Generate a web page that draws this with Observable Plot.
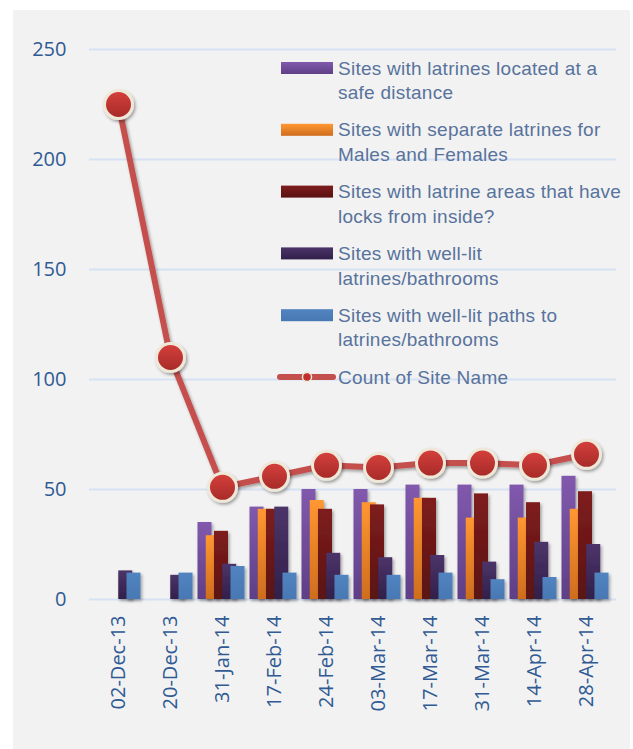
<!DOCTYPE html>
<html><head><meta charset="utf-8">
<script src="https://cdn.jsdelivr.net/npm/d3@7"></script>
<script src="https://cdn.jsdelivr.net/npm/@observablehq/plot@0.6"></script>
<style>
html,body{margin:0;padding:0;background:#fff;}
#wrap{position:relative;width:633px;height:749px;overflow:hidden;}
#panel{position:absolute;left:13px;top:10px;width:617px;height:739px;background:#f2f2f2;}
#chart{position:absolute;left:0;top:0;}
</style></head><body>
<div id="wrap"><div id="panel"></div><div id="chart"></div></div>
<script>
const dates = ["02-Dec-13","20-Dec-13","31-Jan-14","17-Feb-14","24-Feb-14","03-Mar-14","17-Mar-14","31-Mar-14","14-Apr-14","28-Apr-14"];
const seriesNames = [
  "Sites with latrines located at a safe distance",
  "Sites with separate latrines for Males and Females",
  "Sites with latrine areas that have locks from inside?",
  "Sites with well-lit latrines/bathrooms",
  "Sites with well-lit paths to latrines/bathrooms"
];
const lineName = "Count of Site Name";
const legendLines = [
  ["Sites with latrines located at a","safe distance"],
  ["Sites with separate latrines for","Males and Females"],
  ["Sites with latrine areas that have","locks from inside?"],
  ["Sites with well-lit","latrines/bathrooms"],
  ["Sites with well-lit paths to","latrines/bathrooms"],
  ["Count of Site Name"]
];
const safeDistance     = [null,null,35,42,50,50,52,52,52,56];
const separateLatrines = [null,null,29,41,45,44,46,37,37,41];
const locksInside      = [null,null,31,41,41,43,46,48,44,49];
const wellLitLatrines  = [13,11,16,42,21,19,20,17,26,25];
const wellLitPaths     = [12,12,15,12,11,11,12,9,10,12];
const countOfSiteName  = [225,110,51,56,61,60,62,62,61,66];
const yTicks = [0,50,100,150,200,250];

const seriesValues = [safeDistance, separateLatrines, locksInside, wellLitLatrines, wellLitPaths];
const gradIds = ["gPurple","gOrange","gRed","gDarkPurple","gBlue"];
const gradStops = [["#8159ad","#5f3f86"],["#ff9731","#cf6d1e"],["#7e1d1d","#5a1212"],["#4c3469","#31204a"],["#5184c0","#4878b3"]];
const barStep = 8.25;

const marks = [Plot.ruleY(yTicks, {stroke:"#d6e2f3", strokeWidth:2})];
seriesValues.forEach((vals, j) => {
  const rows = dates.map((d, i) => ({date: d, value: vals[i], series: seriesNames[j]})).filter(r => r.value != null);
  marks.push(Plot.barY(rows, {x:"date", y:"value", fill:`url(#${gradIds[j]})`, dx:(j-2)*barStep - 1}));
});
const countRows = dates.map((d, i) => ({date: d, value: countOfSiteName[i]}));
marks.push(Plot.line(countRows, {x:"date", y:"value", stroke:"#c4504d", strokeWidth:6}));
marks.push(Plot.dot(countRows, {x:"date", y:"value", r:14, fill:"url(#gDot)", stroke:"#efe8d9", strokeWidth:3}));
marks.push(Plot.axisY({ticks: yTicks, tickSize:0, tickPadding:23, fontSize:20, fill:"#2f5a94", label:null}));
marks.push(Plot.axisX({tickRotate:-90, tickSize:0, tickPadding:16, fontSize:20, fill:"#2f5a94", label:null}));

const chart = Plot.plot({
  width:633, height:749,
  marginLeft:89, marginRight:17, marginTop:49, marginBottom:150,
  x:{type:"band", domain:dates, paddingInner:0.725, paddingOuter:0.3625},
  y:{domain:[0,250]},
  style:{background:"transparent", fontFamily:"'Open Sans', sans-serif"},
  marks
});
document.getElementById("chart").appendChild(chart);

const svg = d3.select(chart);
const defs = svg.insert("defs", ":first-child");
gradIds.forEach((id, j) => {
  const g = defs.append("linearGradient").attr("id", id).attr("x1",0).attr("y1",0).attr("x2",0).attr("y2",1);
  g.append("stop").attr("offset","0%").attr("stop-color", gradStops[j][0]);
  g.append("stop").attr("offset","100%").attr("stop-color", gradStops[j][1]);
});
const gd = defs.append("linearGradient").attr("id","gDot").attr("x1",0).attr("y1",0).attr("x2",0).attr("y2",1);
gd.append("stop").attr("offset","0%").attr("stop-color","#d6403c");
gd.append("stop").attr("offset","100%").attr("stop-color","#a52a28");
const f = defs.append("filter").attr("id","shadow").attr("x","-30%").attr("y","-30%").attr("width","160%").attr("height","160%");
f.append("feDropShadow").attr("dx",1.5).attr("dy",2).attr("stdDeviation",1.5).attr("flood-color","#000").attr("flood-opacity",0.35);
svg.selectAll('g[aria-label="bar"]').attr("filter","url(#shadow)");
svg.selectAll('g[aria-label="dot"]').attr("filter","url(#shadow)");
svg.selectAll('g[aria-label="line"]').attr("filter","url(#shadow)");

// legend
const lg = svg.append("g").attr("font-family","'Liberation Sans', Arial, sans-serif").attr("font-size",19).attr("letter-spacing","0.25px").attr("fill","#58739c").attr("text-anchor","start");
const legY0 = 68, legStep = 61.8, lineH = 24.5;
legendLines.forEach((lines, k) => {
  const y = legY0 + k*legStep;
  if (k < 5) {
    lg.append("rect").attr("x",281).attr("y",y-6).attr("width",52).attr("height",12).attr("fill",`url(#${gradIds[k]})`);
  } else {
    lg.append("line").attr("x1",280).attr("x2",333).attr("y1",y).attr("y2",y).attr("stroke","#c4504d").attr("stroke-width",6).attr("stroke-linecap","round");
    lg.append("circle").attr("cx",307).attr("cy",y).attr("r",4.5).attr("fill","#c0302c").attr("stroke","#efe8d9").attr("stroke-width",1.5);
  }
  lines.forEach((t, li) => {
    lg.append("text").attr("x",338).attr("y",y + li*lineH).attr("dy","0.35em").attr("text-anchor","start").text(t);
  });
});
</script>
</body></html>
